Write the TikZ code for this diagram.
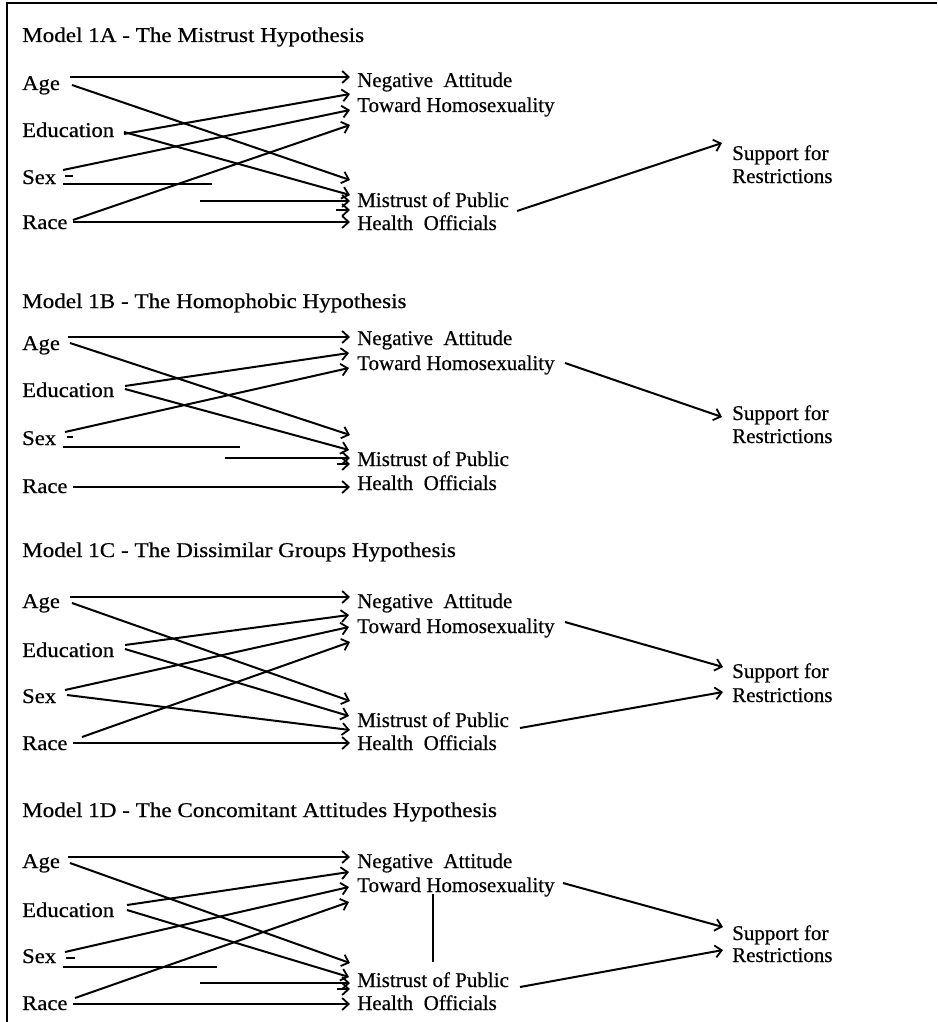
\documentclass[tikz,border=0pt]{standalone}
\usepackage{fontspec}
\setmainfont{Liberation Serif}
\newfontfamily\lfont[FakeStretch=1.08,FakeBold=0.5]{Liberation Serif}
\newfontfamily\rfont[FakeBold=0.5]{Liberation Serif}
\newfontfamily\ttlfont[FakeStretch=1.1,FakeBold=0.5]{Liberation Serif}
\usetikzlibrary{arrows.meta}
\newcommand{\conn}[4]{\coordinate (#1-s) at (#2); \coordinate (#1-e) at (#3); \draw[#4] (#1-s) -- (#1-e);}
\begin{document}
\begin{tikzpicture}[x=1pt,y=-1pt,
  lab/.style={inner sep=0pt, anchor=base west, font=\lfont\fontsize{21}{24}\selectfont},
  rlab/.style={inner sep=0pt, anchor=base west, font=\rfont\fontsize{21}{24}\selectfont},
  ttl/.style={inner sep=0pt, anchor=base west, font=\ttlfont\fontsize{21}{24}\selectfont},
  arr/.style={line width=2pt, -{Straight Barb[length=6.5pt,width=12pt,line width=1.8pt]}},
  ln/.style={line width=2pt},
  thinln/.style={line width=1.2pt}]
\useasboundingbox (0,0) rectangle (937,1022);
% frame
\draw[line width=2.6pt] (6.3,3) -- (937,3);
\draw[line width=1.6pt] (7,3) -- (7,1022);

% ---------------- Model 1A
\node[ttl] (tA) at (22,42) {Model 1A - The Mistrust Hypothesis};
\node[lab] (ageA) at (22,90) {Age};
\node[lab] (eduA) at (22,137) {Education};
\node[lab] (sexA) at (22,184) {Sex};
\node[lab] (raceA) at (22,229) {Race};
\node[rlab] (negA) at (357,87) {Negative\ \ Attitude};
\node[rlab] (towA) at (357,112) {Toward Homosexuality};
\node[rlab] (misA) at (357,207) {Mistrust of Public};
\node[rlab] (hltA) at (357,230) {Health\ \ Officials};
\node[rlab] (supA) at (732,160) {Support for};
\node[rlab] (resA) at (732,183) {Restrictions};
\conn{A1}{70,77}{350,77}{arr}
\conn{A2}{72,85}{350,180}{arr}
\conn{A3}{124,134}{350,94}{arr}
\conn{A4}{124,132}{350,195}{arr}
\conn{A5}{63,170}{350,110}{arr}
\conn{A6}{63,184}{212,184}{ln}
\conn{A7}{200,201}{350,201}{arr}
\conn{A8}{336,210}{350,210}{arr}
\conn{A9}{73,220}{350,125}{arr}
\conn{A10}{73,222}{350,222}{arr}
\conn{A11}{517,211}{722,143}{arr}
\conn{A12}{65,176}{73,176}{thinln}

% ---------------- Model 1B
\node[ttl] (tB) at (22,308) {Model 1B - The Homophobic Hypothesis};
\node[lab] (ageB) at (22,350) {Age};
\node[lab] (eduB) at (22,397) {Education};
\node[lab] (sexB) at (22,445) {Sex};
\node[lab] (raceB) at (22,493) {Race};
\node[rlab] (negB) at (357,345) {Negative\ \ Attitude};
\node[rlab] (towB) at (357,370) {Toward Homosexuality};
\node[rlab] (misB) at (357,466) {Mistrust of Public};
\node[rlab] (hltB) at (357,490) {Health\ \ Officials};
\node[rlab] (supB) at (732,420) {Support for};
\node[rlab] (resB) at (732,443) {Restrictions};
\conn{B1}{68,337}{350,337}{arr}
\conn{B2}{70,343}{350,435}{arr}
\conn{B3}{125,386}{349,353}{arr}
\conn{B4}{125,389}{349,450}{arr}
\conn{B5}{65,432}{349,368}{arr}
\conn{B6}{63,447}{240,447}{ln}
\conn{B7}{225,458}{350,458}{arr}
\conn{B8}{337,464}{350,464}{arr}
\conn{B9}{73,487}{350,487}{arr}
\conn{B10}{565,363}{722,417}{arr}
\conn{B11}{67,437}{73,437}{thinln}

% ---------------- Model 1C
\node[ttl] (tC) at (22,557) {Model 1C - The Dissimilar Groups Hypothesis};
\node[lab] (ageC) at (22,608) {Age};
\node[lab] (eduC) at (22,657) {Education};
\node[lab] (sexC) at (22,703) {Sex};
\node[lab] (raceC) at (22,750) {Race};
\node[rlab] (negC) at (357,608) {Negative\ \ Attitude};
\node[rlab] (towC) at (357,633) {Toward Homosexuality};
\node[rlab] (misC) at (357,727) {Mistrust of Public};
\node[rlab] (hltC) at (357,750) {Health\ \ Officials};
\node[rlab] (supC) at (732,678) {Support for};
\node[rlab] (resC) at (732,702) {Restrictions};
\conn{C1}{70,597}{350,597}{arr}
\conn{C2}{72,603}{350,701}{arr}
\conn{C3}{125,645}{349,615}{arr}
\conn{C4}{125,649}{349,716}{arr}
\conn{C5}{65,690}{349,627}{arr}
\conn{C6}{67,695}{350,730}{arr}
\conn{C7}{82,737}{350,642}{arr}
\conn{C8}{73,743}{350,743}{arr}
\conn{C9}{565,622}{723,667}{arr}
\conn{C10}{520,728}{723,692}{arr}

% ---------------- Model 1D
\node[ttl] (tD) at (22,817) {Model 1D - The Concomitant Attitudes Hypothesis};
\node[lab] (ageD) at (22,868) {Age};
\node[lab] (eduD) at (22,917) {Education};
\node[lab] (sexD) at (22,963) {Sex};
\node[lab] (raceD) at (22,1010) {Race};
\node[rlab] (negD) at (357,868) {Negative\ \ Attitude};
\node[rlab] (towD) at (357,892) {Toward Homosexuality};
\node[rlab] (misD) at (357,987) {Mistrust of Public};
\node[rlab] (hltD) at (357,1010) {Health\ \ Officials};
\node[rlab] (supD) at (732,940) {Support for};
\node[rlab] (resD) at (732,962) {Restrictions};
\conn{D1}{68,857}{350,857}{arr}
\conn{D2}{70,863}{350,963}{arr}
\conn{D3}{127,905}{349,872}{arr}
\conn{D4}{127,910}{349,977}{arr}
\conn{D5}{65,952}{349,887}{arr}
\conn{D6}{63,967}{217,967}{ln}
\conn{D7}{200,983}{350,983}{arr}
\conn{D8}{337,989}{350,989}{arr}
\conn{D9}{75,998}{349,902}{arr}
\conn{D10}{73,1004}{350,1004}{arr}
\conn{D11}{433,894}{433,962}{thinln}
\conn{D12}{563,883}{723,927}{arr}
\conn{D13}{520,987}{723,950}{arr}
\conn{D14}{66,958}{75,958}{thinln}
\end{tikzpicture}
\end{document}
